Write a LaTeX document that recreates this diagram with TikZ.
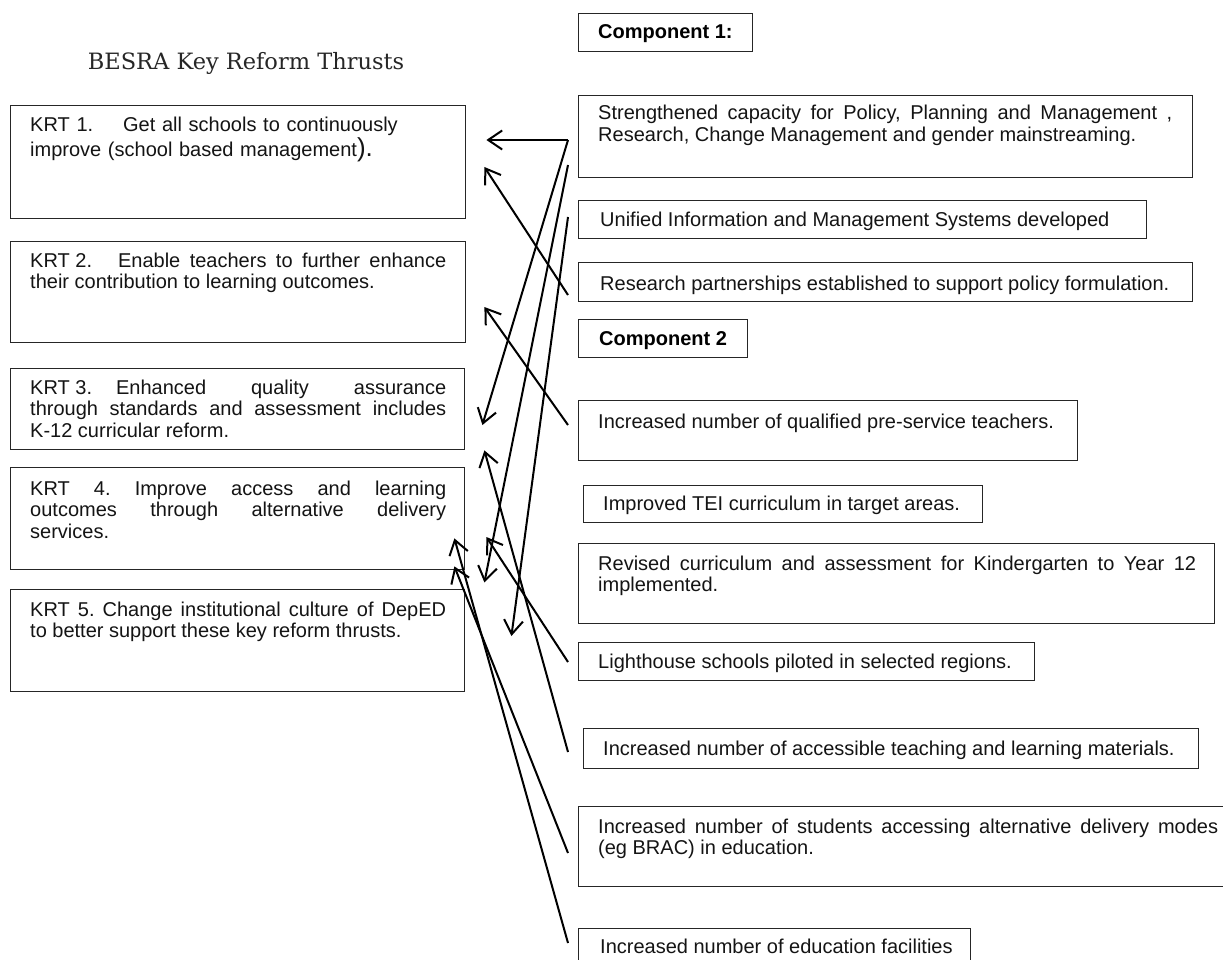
\documentclass[tikz,border=0pt]{standalone}
\usepackage{fontspec}
\setmainfont{Liberation Sans}
\newfontfamily\titlefont{DejaVu Serif}
\usetikzlibrary{arrows.meta}
\frenchspacing

\begin{document}
\begin{tikzpicture}[x=1pt,y=-1pt,
  frame/.style={draw=black!85, line width=1.4pt, anchor=north west, inner sep=0pt},
  txt/.style={anchor=base west, inner sep=0pt, text=black!92,
    font=\fontsize{20}{21.5}\selectfont, text width=#1, align=justify},
  head/.style={anchor=base west, inner sep=0pt, text=black,
    font=\fontsize{20}{21}\selectfont\bfseries},
  arr/.style={-{Straight Barb[length=14pt,width=19pt]}, line width=2pt, black}
]
\useasboundingbox (0,0) rectangle (1223,960);
\fill[white] (0,0) rectangle (1223,960);
\clip (0,0) rectangle (1223,960);

% ---------- title ----------
\node[anchor=base, inner sep=0pt, font=\titlefont\fontsize{22.5}{24}\selectfont, text=black!85]
  (title) at (246,70) {BESRA Key Reform Thrusts};

% ---------- key reform thrusts ----------
\node[frame, minimum width=455pt, minimum height=113pt] (krt1) at (10,105) {};
\node[frame, minimum width=455pt, minimum height=101pt] (krt2) at (10,241) {};
\node[frame, minimum width=454pt, minimum height=81pt]  (krt3) at (10,368) {};
\node[frame, minimum width=454pt, minimum height=102pt] (krt4) at (10,467) {};
\node[frame, minimum width=454pt, minimum height=102pt] (krt5) at (10,589) {};

\node[txt=416pt, align=left] (krt1t) at ([shift={(20,27)}]krt1.north west)
  {\mbox{KRT 1.}\hspace{30pt}Get all schools to continuously\\[1pt]
   improve (school based management{\fontsize{26}{26}\selectfont).}};
\node[txt=416pt] (krt2t) at ([shift={(20,26)}]krt2.north west)
  {\mbox{KRT 2.}\hspace{26pt}Enable teachers to further enhance\linebreak
   their contribution to learning outcomes.};
\node[txt=416pt] (krt3t) at ([shift={(20,26)}]krt3.north west)
  {\mbox{KRT 3.}\hspace{24pt}Enhanced quality assurance\linebreak
   through standards and assessment includes\linebreak
   K-12 curricular reform.};
\node[txt=416pt] (krt4t) at ([shift={(20,28)}]krt4.north west)
  {KRT 4. Improve access and learning\linebreak
   outcomes through alternative delivery\linebreak
   services.};
\node[txt=416pt] (krt5t) at ([shift={(20,27)}]krt5.north west)
  {KRT 5. Change institutional culture of DepED\linebreak
   to better support these key reform thrusts.};

% ---------- component 1 ----------
\node[frame, minimum width=174pt, minimum height=38pt] (comp1) at (578,13) {};
\node[head] (comp1t) at ([shift={(20,26)}]comp1.north west) {Component 1:};

\node[frame, minimum width=614pt, minimum height=82pt] (s1) at (578,95) {};
\node[txt=574pt] (s1t) at ([shift={(20,25)}]s1.north west)
  {Strengthened capacity for Policy, Planning and Management ,\linebreak
   Research, Change Management and gender mainstreaming.};

\node[frame, minimum width=568pt, minimum height=38pt] (uni) at (578,200) {};
\node[txt=540pt] (unit) at ([shift={(22,26)}]uni.north west)
  {Unified Information and Management Systems developed};

\node[frame, minimum width=614pt, minimum height=39pt] (res) at (578,262) {};
\node[txt=590pt] (rest) at ([shift={(22,28)}]res.north west)
  {Research partnerships established to support policy formulation.};

% ---------- component 2 ----------
\node[frame, minimum width=169pt, minimum height=38pt] (comp2) at (578,319) {};
\node[head] (comp2t) at ([shift={(21,26)}]comp2.north west) {Component 2};

\node[frame, minimum width=499pt, minimum height=60pt] (qual) at (578,400) {};
\node[txt=470pt] (qualt) at ([shift={(20,28)}]qual.north west)
  {Increased number of qualified pre-service teachers.};

\node[frame, minimum width=399pt, minimum height=37pt] (tei) at (583,485) {};
\node[txt=370pt] (teit) at ([shift={(20,25)}]tei.north west)
  {Improved TEI curriculum in target areas.};

\node[frame, minimum width=636pt, minimum height=80pt] (rev) at (578,543) {};
\node[txt=598pt] (revt) at ([shift={(20,27)}]rev.north west)
  {Revised curriculum and assessment for Kindergarten to Year 12\linebreak
   implemented.};

\node[frame, minimum width=456pt, minimum height=38pt] (light) at (578,642) {};
\node[txt=430pt] (lightt) at ([shift={(20,26)}]light.north west)
  {Lighthouse schools piloted in selected regions.};

\node[frame, minimum width=615pt, minimum height=40pt] (acc) at (583,728) {};
\node[txt=590pt] (acct) at ([shift={(20,27)}]acc.north west)
  {Increased number of accessible teaching and learning materials.};

\node[frame, minimum width=660pt, minimum height=80pt] (alt) at (578,806) {};
\node[txt=620pt] (altt) at ([shift={(20,27)}]alt.north west)
  {Increased number of students accessing alternative delivery modes\linebreak
   (eg BRAC) in education.};

\node[frame, minimum width=392pt, minimum height=60pt] (fac) at (578,928) {};
\node[txt=370pt] (fact) at ([shift={(22,25)}]fac.north west)
  {Increased number of education facilities};

% ---------- links from outputs to reform thrusts ----------
\draw[arr] ([shift={(-10,45)}]s1.north west) -- ([shift={(20,35)}]krt1.north east);
\draw[arr] ([shift={(-10,45)}]s1.north west) -- ([shift={(17,57)}]krt3.north east);
\draw[arr] ([shift={(-10,70)}]s1.north west) -- ([shift={(19,12)}]krt4.south east);
\draw[arr] ([shift={(-10,17)}]uni.north west) -- ([shift={(46,47)}]krt5.north east);
\draw[arr] ([shift={(-10,33)}]res.north west) -- ([shift={(18,62)}]krt1.north east);
\draw[arr] ([shift={(-10,25)}]qual.north west) -- ([shift={(18,66)}]krt2.north east);
\draw[arr] ([shift={(-15,24)}]acc.north west) -- ([shift={(19,0)}]krt3.south east);
\draw[arr] ([shift={(-10,20)}]light.north west) -- ([shift={(21,70)}]krt4.north east);
\draw[arr] ([shift={(-10,47)}]alt.north west) -- ([shift={(-11,-4)}]krt4.south east);
\draw[arr] ([shift={(-10,15)}]fac.north west) -- ([shift={(-11,-32)}]krt4.south east);
\end{tikzpicture}
\end{document}
